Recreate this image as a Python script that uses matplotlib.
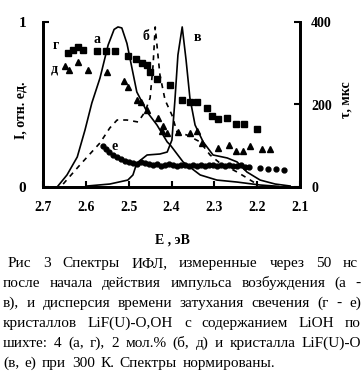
import matplotlib
matplotlib.use("Agg")
import matplotlib.pyplot as plt

plt.rcParams['font.family'] = ['Liberation Serif', 'DejaVu Serif']

# spectra (E in eV, I normalized)
E_a = [2.667, 2.644, 2.620, 2.602, 2.586, 2.567, 2.548, 2.534, 2.525, 2.516, 2.504,
       2.481, 2.457, 2.434, 2.410, 2.403, 2.373, 2.333, 2.294, 2.247, 2.193, 2.150]
I_a = [0.0, 0.073, 0.182, 0.345, 0.509, 0.660, 0.860, 0.955, 0.970, 0.964, 0.870,
       0.576, 0.455, 0.376, 0.273, 0.255, 0.152, 0.073, 0.042, 0.030, 0.012, 0.004]

E_b = [2.653, 2.614, 2.567, 2.544, 2.527, 2.504, 2.478, 2.462, 2.450, 2.443, 2.438,
       2.434, 2.427, 2.415, 2.399, 2.387, 2.364, 2.333, 2.310, 2.287, 2.247, 2.224, 2.205]
I_b = [0.018, 0.133, 0.267, 0.358, 0.406, 0.406, 0.394, 0.455, 0.539, 0.739, 0.970,
       0.861, 0.679, 0.527, 0.436, 0.333, 0.315, 0.273, 0.194, 0.145, 0.091, 0.055, 0.024]

E_v = [2.597, 2.544, 2.502, 2.490, 2.481, 2.457, 2.427, 2.410, 2.399, 2.392, 2.385,
       2.375, 2.366, 2.357, 2.345, 2.326, 2.303, 2.270, 2.247, 2.224, 2.193, 2.158, 2.123]
I_v = [0.006, 0.018, 0.042, 0.073, 0.145, 0.194, 0.200, 0.212, 0.285, 0.527, 0.800,
       0.970, 0.770, 0.539, 0.376, 0.273, 0.194, 0.176, 0.152, 0.091, 0.042, 0.018, 0.006]

# decay time dispersion (tau, mks)
E_g = [2.642, 2.630, 2.618, 2.607, 2.574, 2.553, 2.532, 2.502, 2.483, 2.469, 2.457, 2.450,
       2.434, 2.403, 2.375, 2.357, 2.340, 2.317, 2.305, 2.291, 2.270, 2.249, 2.230, 2.200]
t_g = [325, 332, 339, 332, 330, 330, 330, 318, 310, 301, 296, 279,
       262, 247, 211, 206, 206, 192, 172, 165, 167, 153, 153, 141]

E_d = [2.649, 2.639, 2.618, 2.595, 2.551, 2.511, 2.502, 2.481, 2.471, 2.457, 2.431, 2.420, 2.422,
       2.410, 2.385, 2.357, 2.340, 2.329, 2.291, 2.266, 2.249, 2.233, 2.217, 2.189, 2.170]
t_d = [293, 284, 303, 284, 279, 257, 242, 211, 206, 187, 167, 148, 136,
       131, 133, 131, 136, 107, 95, 102, 87, 87, 99, 92, 92]

E_e = [2.560, 2.553, 2.546, 2.537, 2.527, 2.518, 2.509, 2.499, 2.490, 2.481, 2.471, 2.462,
       2.452, 2.443, 2.434, 2.424, 2.415, 2.406, 2.396, 2.387, 2.378, 2.368, 2.359, 2.350,
       2.340, 2.331, 2.322, 2.312, 2.303, 2.294, 2.284, 2.275, 2.266, 2.256, 2.247, 2.238,
       2.228, 2.219, 2.193, 2.175, 2.156, 2.137]
t_e = [99, 92, 85, 78, 73, 68, 63, 61, 58, 56, 61, 58,
       56, 53, 56, 51, 53, 56, 53, 51, 53, 53, 51, 53,
       51, 53, 51, 53, 53, 51, 53, 51, 53, 51, 51, 53,
       48, 48, 46, 44, 44, 41]

x_ticks = [2.7, 2.6, 2.5, 2.4, 2.3, 2.2, 2.1]

caption = [
    "Рис 3 Спектры ИФЛ, измеренные через 50 нс",
    "после начала действия импульса возбуждения (а -",
    "в), и дисперсия времени затухания свечения (г - е)",
    "кристаллов LiF(U)-O,OH с содержанием LiOH по",
    "шихте: 4 (а, г), 2 мол.% (б, д) и кристалла LiF(U)-O",
    "(в, е) при 300 К. Спектры нормированы.",
]

W, H = 364, 375
fig = plt.figure(figsize=(W / 100, H / 100), dpi=100)
ax = fig.add_axes([43 / W, 1 - 187 / H, 257 / W, 165 / H])
ax2 = ax.twinx()

ax.plot(E_a, I_a, color='k', lw=1.2)
ax.plot(E_b, I_b, color='k', lw=1.2, ls=(0, (3, 3)))
ax.plot(E_v, I_v, color='k', lw=1.2)

ax2.plot(E_g, t_g, ls='none', marker='s', ms=4.3, color='k')
ax2.plot(E_d, t_d, ls='none', marker='^', ms=4.5, color='k')
ax2.plot(E_e, t_e, ls='none', marker='o', ms=3.5, color='k')

ax.set_xlim(2.7, 2.1)
ax.set_ylim(0, 1)
ax2.set_ylim(0, 400)

ax.set_xticks(x_ticks)
ax.set_xticklabels([str(v) for v in x_ticks], fontweight='bold', fontsize=10)
ax.set_yticks([0, 1])
ax.set_yticklabels(['0', '1'], fontweight='bold', fontsize=11)
ax2.set_yticks([0, 200, 400])
ax2.set_yticklabels(['0', '200', '400'], fontweight='bold', fontsize=10)

ax.tick_params(axis='x', direction='in', length=4, width=1.5, pad=10)
ax.tick_params(axis='y', direction='in', length=4, width=1.5, pad=12)
ax2.tick_params(axis='y', direction='in', length=4, width=1.5, pad=8)

for a in (ax, ax2):
    a.spines['top'].set_visible(False)
    for s in ('left', 'bottom', 'right'):
        a.spines[s].set_linewidth(2)

# curve letters
for txt, xe, yi in [('г', 2.670, 0.855), ('а', 2.574, 0.893), ('б', 2.459, 0.915),
                    ('в', 2.340, 0.905), ('д', 2.674, 0.718), ('е', 2.532, 0.245)]:
    ax.text(xe, yi, txt, fontsize=10, fontweight='bold', ha='center', va='center')

fig.text(21 / W, 1 - 110 / H, 'I, отн. ед.', rotation=90, fontsize=10,
         fontweight='bold', ha='center', va='center')
fig.text(346 / W, 1 - 100 / H, 'τ, мкс', rotation=90, fontsize=10,
         fontweight='bold', ha='center', va='center')
fig.text(172 / W, 1 - 240 / H, 'E , эВ', fontsize=10, fontweight='bold',
         ha='center', va='center')

# justified caption
fig.canvas.draw()
r = fig.canvas.get_renderer()
for i, line in enumerate(caption):
    y = 1 - (267 + 20 * i) / H
    x0, x1 = (8, 358) if i == 0 else (3, 361)
    words = line.split(' ')
    ts = [fig.text(0, y, w, fontsize=11, va='baseline', ha='left') for w in words]
    ws = [t.get_window_extent(r).width for t in ts]
    if i == len(caption) - 1:
        gap = 5.5
    else:
        gap = (x1 - x0 - sum(ws)) / (len(ws) - 1)
    x = x0
    for t, w in zip(ts, ws):
        t.set_x(x / W)
        x += w + gap

fig.savefig('out.png', dpi=100)
